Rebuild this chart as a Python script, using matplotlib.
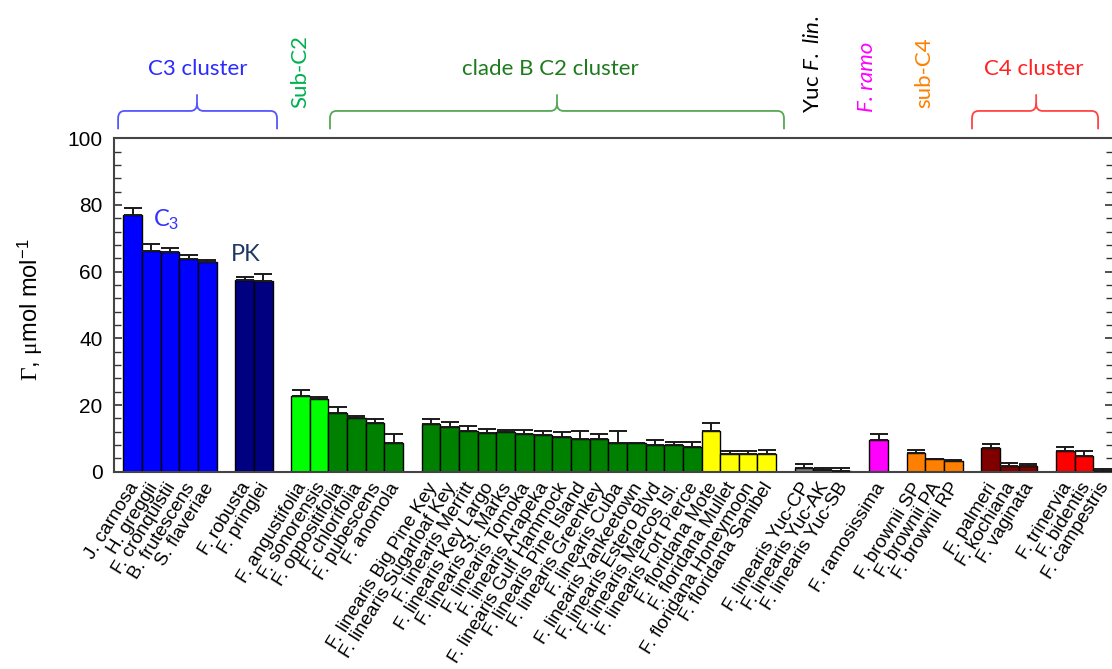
import matplotlib
matplotlib.use("Agg")
import matplotlib.pyplot as plt
import matplotlib.transforms as mtransforms
from matplotlib.path import Path
from matplotlib.patches import PathPatch
from matplotlib.ticker import MultipleLocator
import numpy as np

# ---- data (CO2 compensation point, umol/mol) ----
species = [
    "J. carnosa", "H. greggii", "F. cronquistii", "B. frutescens", "S. flaveriae",
    "F. robusta", "F. pringlei",
    "F. angustifolia", "F. sonorensis", "F. oppositifolia", "F. chlorifolia",
    "F. pubescens", "F. anomola",
    "F. linearis Big Pine Key", "F. linearis Sugarloaf Key", "F. linearis Merritt",
    "F. linearis Key Largo", "F. linearis St. Marks", "F. linearis Tomoka",
    "F. linearis Arapeka", "F. linearis Gulf Hammock", "F. linearis Pine Island",
    "F. linearis Greenkey", "F. linearis Cuba", "F. linearis Yankeetown",
    "F. linearis Estero Blvd", "F. linearis Marcos Isl.", "F. linearis Fort Pierce",
    "F. floridana Mote", "F. floridana Mullet", "F. floridana Honeymoon",
    "F. floridana Sanibel",
    "F. linearis Yuc-CP", "F. linearis Yuc-AK", "F. linearis Yuc-SB",
    "F. ramosissima",
    "F. brownii SP", "F. brownii PA", "F. brownii RP",
    "F. palmeri", "F. kochiana", "F. vaginata",
    "F. trinervia", "F. bidentis", "F. campestris",
]
gamma = [
    77.0, 66.3, 65.8, 63.9, 62.8,
    57.5, 57.2,
    22.8, 21.7, 17.6, 16.2, 14.5, 8.6,
    14.2, 13.3, 12.1, 11.7, 11.8, 11.3, 10.9, 10.5, 9.7, 9.7, 8.6, 8.6, 8.1, 8.1, 7.4,
    12.2, 5.4, 5.4, 5.4,
    1.1, 0.4, 0.3,
    9.4,
    5.5, 3.7, 3.2,
    7.0, 1.8, 1.7,
    6.2, 4.6, 0.3,
]
gamma_err = [
    2.0, 2.0, 1.3, 1.2, 0.8,
    0.9, 2.0,
    1.7, 0.7, 1.8, 0.6, 1.3, 2.8,
    1.6, 1.6, 1.7, 1.2, 0.7, 1.2, 1.3, 1.3, 2.5, 1.7, 3.6, 0.0, 1.3, 0.9, 1.6,
    2.4, 0.8, 0.8, 1.2,
    1.2, 0.7, 0.8,
    2.0,
    1.1, 0.2, 0.3,
    1.3, 0.9, 0.5,
    1.2, 1.6, 0.4,
]
# contiguous blocks of bars (a one-bar gap between blocks)
block = [0] * 5 + [1] * 2 + [2] * 6 + [3] * 19 + [4] * 3 + [5] + [6] * 3 + [7] * 3 + [8] * 3
bar_colors = (["#0000ff"] * 5 + ["#000080"] * 2 + ["#00ff00"] * 2 + ["#008000"] * 4
              + ["#008000"] * 15 + ["#ffff00"] * 4 + ["#808080"] * 3 + ["#ff00ff"]
              + ["#ff8000"] * 3 + ["#800000"] * 3 + ["#ff0000"] * 3)

plt.rcParams['font.family'] = ['Liberation Sans', 'DejaVu Sans']
plt.rcParams['mathtext.fontset'] = 'custom'
plt.rcParams['mathtext.rm'] = 'Liberation Serif'
plt.rcParams['mathtext.it'] = 'Lato:italic'
plt.rcParams['mathtext.sf'] = 'Liberation Sans'

fig = plt.figure(figsize=(11.12, 6.69), dpi=100)
ax = fig.add_axes([0.1028, 0.2949, 0.8981, 0.4984])

x = np.arange(len(species)) + np.array(block)
ax.bar(x, gamma, width=1.0, color=bar_colors, edgecolor='black', linewidth=1.0, zorder=2)
ax.errorbar(x, gamma, yerr=[np.zeros(len(gamma)), gamma_err], fmt='none',
            ecolor='#1a1a1a', elinewidth=1.4, capsize=6.5, capthick=1.4, zorder=3)

ax.set_xlim(-0.983, x[-1] + 0.56)
ax.set_ylim(0, 100)
ax.yaxis.set_major_locator(MultipleLocator(20))
ax.yaxis.set_minor_locator(MultipleLocator(4))
ax.tick_params(axis='y', which='both', direction='in', right=True, labelsize=15,
               pad=8.5, color='#333333', width=1.2)
ax.tick_params(axis='y', which='major', length=6)
ax.tick_params(axis='y', which='minor', length=5, width=1.0)

ax.set_xticks(x)
ax.set_xticklabels(species, rotation=58, ha='right', va='center',
                   rotation_mode='anchor', fontsize=13.6)
ax.tick_params(axis='x', length=0, pad=9.0)
shift = mtransforms.ScaledTranslation(2.5 / 100, 0, fig.dpi_scale_trans)
for lab in ax.get_xticklabels():
    lab.set_transform(lab.get_transform() + shift)

for side in ['left', 'top', 'bottom', 'right']:
    ax.spines[side].set_color('#444444')
    ax.spines[side].set_linewidth(1.5)

ax.set_ylabel(r"$\Gamma$, $\mathrm{\mu}$mol mol$^{\mathsf{-1}}$", fontsize=17)
ax.yaxis.set_label_coords(-0.069, 0.485)

# labels on bars
ax.text(1.1, 75.5, r"C$_{\mathsf{3}}$", color='#3333ff', fontsize=17,
        family='Lato', va='center', ha='left')
ax.text(6.08, 65, "PK", color='#203864', fontsize=17, family='Lato',
        va='center', ha='center')

# cluster braces above the axes
trans = mtransforms.blended_transform_factory(ax.transData, ax.transAxes)


def brace(x0, x1, xm, color):
    yb, yh, yp = 1.027, 1.082, 1.132
    rx, ry = 0.35, 0.022
    verts = [(x0, yb), (x0, yh - ry), (x0, yh), (x0 + rx, yh),
             (xm - rx, yh), (xm, yh), (xm, yh + ry), (xm, yp),
             (xm, yh + ry), (xm, yh), (xm + rx, yh),
             (x1 - rx, yh), (x1, yh), (x1, yh - ry), (x1, yb)]
    codes = [Path.MOVETO, Path.LINETO, Path.CURVE3, Path.CURVE3,
             Path.LINETO, Path.CURVE3, Path.CURVE3, Path.LINETO,
             Path.MOVETO, Path.CURVE3, Path.CURVE3,
             Path.LINETO, Path.CURVE3, Path.CURVE3, Path.LINETO]
    ax.add_patch(PathPatch(Path(verts, codes), transform=trans, fill=False,
                           edgecolor=color, linewidth=1.3, clip_on=False))


brace(-0.78, 7.74, 3.45, '#5555ff')
brace(10.58, 34.92, 22.75, '#55a855')
brace(45.0, 51.76, 48.44, '#ff4444')

ax.text(3.5, 1.208, "C3 cluster", transform=trans, color='#2b2bff', fontsize=16,
        family='Lato', ha='center', va='center')
ax.text(22.38, 1.208, "clade B C2 cluster", transform=trans, color='#1e7b1e',
        fontsize=16, family='Lato', ha='center', va='center')
ax.text(48.33, 1.209, "C4 cluster", transform=trans, color='#ff2222', fontsize=16,
        family='Lato', ha='center', va='center')
ax.text(8.97, 1.091, "Sub-C2", transform=trans, color='#00b050', fontsize=16,
        family='Lato', rotation=90, ha='center', va='bottom')
ax.text(36.48, 1.076, r"Yuc $\mathit{F.\ lin.}$", transform=trans, color='black',
        fontsize=16, family='Lato', rotation=90, ha='center', va='bottom')
ax.text(39.38, 1.079, "F. ramo", transform=trans, color='#ff00ff', fontsize=16,
        family='Lato', style='italic', rotation=90, ha='center', va='bottom')
ax.text(42.43, 1.091, "sub-C4", transform=trans, color='#ff7f00', fontsize=16,
        family='Lato', rotation=90, ha='center', va='bottom')

fig.savefig("out.png", dpi=100)
